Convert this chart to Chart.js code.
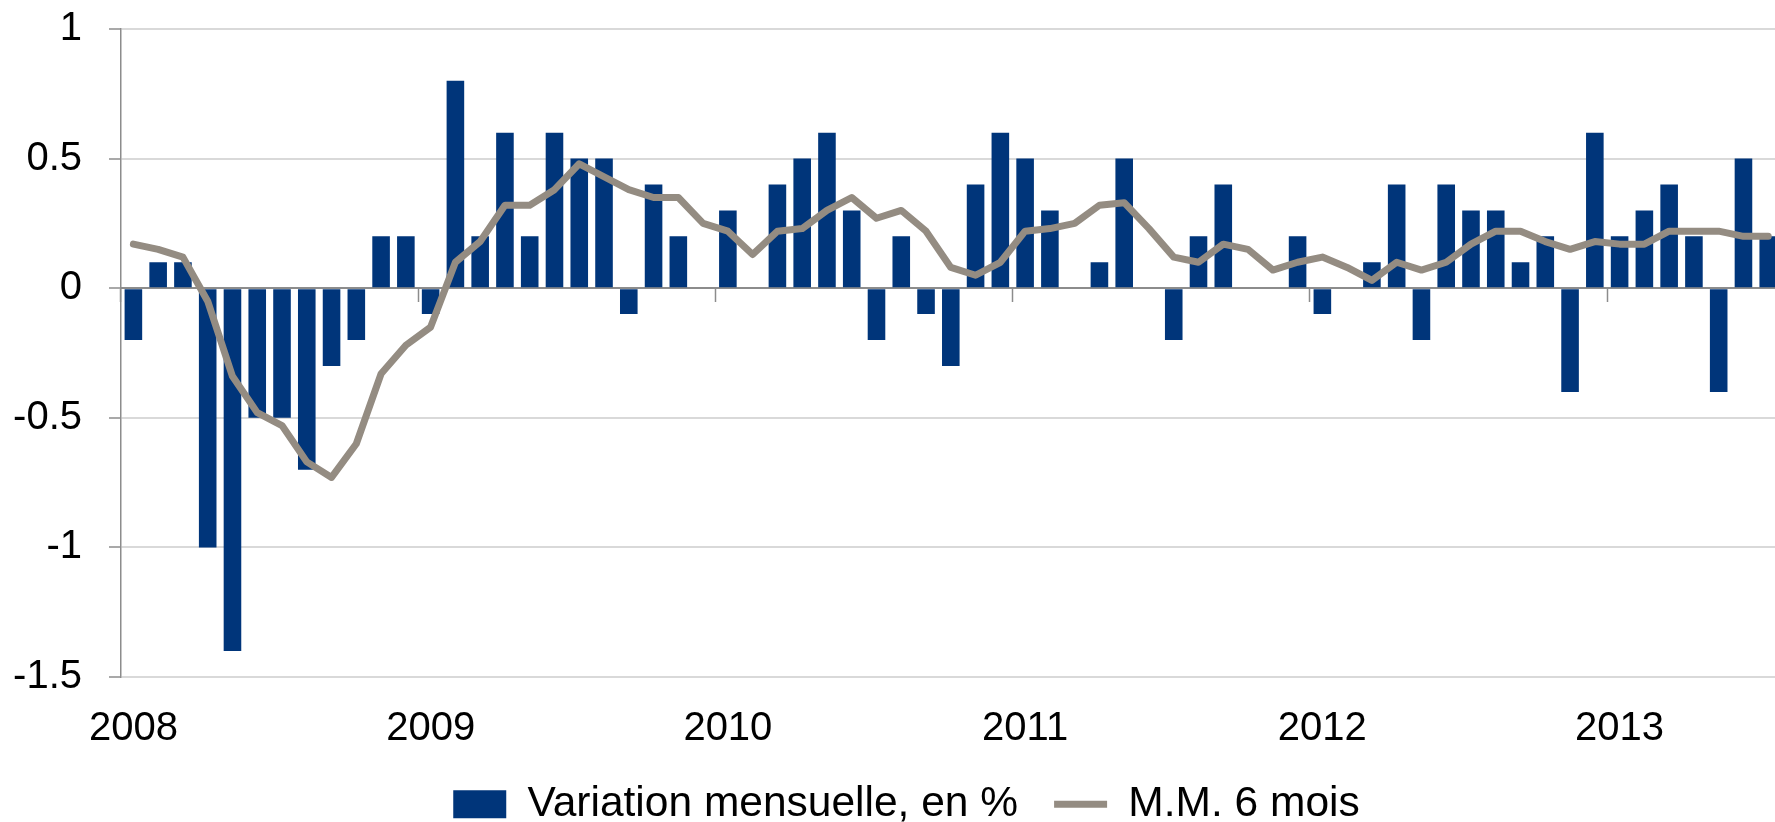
<!DOCTYPE html>
<html>
<head>
<meta charset="utf-8">
<script src="https://cdn.jsdelivr.net/npm/chart.js@4.4.1/dist/chart.umd.min.js"></script>
<style>
  html, body { margin: 0; padding: 0; background: #ffffff; overflow: hidden; width: 1775px; height: 822px; }
  canvas { display: block; }
</style>
</head>
<body>
<canvas id="c" width="1813" height="822" style="width:1813px;height:822px"></canvas>
<script>
// ---- Data ----
const yearLabels = ['2008', '2009', '2010', '2011', '2012', '2013'];
const monthCodes = ['01', '02', '03', '04', '05', '06', '07', '08', '09', '10', '11', '12'];
const lastCategory = '2013-08';
const seriesNames = ['Variation mensuelle, en %', 'M.M. 6 mois'];
const yTickLabels = ['-1.5', '-1', '-0.5', '0', '0.5', '1'];

// Variation mensuelle, en % (Jan 2008 -> Jul 2013)
const monthlyChange = [
  -0.2, 0.1, 0.1, -1.0, -1.4, -0.5, -0.5, -0.7, -0.3, -0.2, 0.2, 0.2,
  -0.1, 0.8, 0.2, 0.6, 0.2, 0.6, 0.5, 0.5, -0.1, 0.4, 0.2, 0,
  0.3, 0, 0.4, 0.5, 0.6, 0.3, -0.2, 0.2, -0.1, -0.3, 0.4, 0.6,
  0.5, 0.3, 0, 0.1, 0.5, 0, -0.2, 0.2, 0.4, 0, 0, 0.2,
  -0.1, 0, 0.1, 0.4, -0.2, 0.4, 0.3, 0.3, 0.1, 0.2, -0.4, 0.6,
  0.2, 0.3, 0.4, 0.2, -0.4, 0.5, 0.2
];

// M.M. 6 mois
const movingAvg6 = [
  0.17, 0.15, 0.12, -0.05, -0.34, -0.48, -0.53, -0.67, -0.73, -0.60, -0.33, -0.22,
  -0.15, 0.10, 0.18, 0.32, 0.32, 0.38, 0.48, 0.43, 0.38, 0.35, 0.35, 0.25,
  0.22, 0.13, 0.22, 0.23, 0.30, 0.35, 0.27, 0.30, 0.22, 0.08, 0.05, 0.10,
  0.22, 0.23, 0.25, 0.32, 0.33, 0.23, 0.12, 0.10, 0.17, 0.15, 0.07, 0.10,
  0.12, 0.08, 0.03, 0.10, 0.07, 0.10, 0.17, 0.22, 0.22, 0.18, 0.15, 0.18,
  0.17, 0.17, 0.22, 0.22, 0.22, 0.20, 0.20
];

// monthly categories built from the year / month lists
const categories = [];
for (const y of yearLabels) {
  for (const m of monthCodes) {
    if (categories.length && categories[categories.length - 1] === lastCategory) break;
    categories.push(y + '-' + m);
  }
}

// ---- Styles ----
const FONT = "'Liberation Sans', Arial, Helvetica, sans-serif";
const BAR = '#00357a';
const LINE = '#948c82';
const GRID = '#d9d9d9';
const AXIS = '#8c8c8c';

new Chart(document.getElementById('c'), {
  data: {
    labels: categories,
    datasets: [
      {
        type: 'bar',
        label: seriesNames[0],
        data: monthlyChange,
        backgroundColor: BAR,
        borderWidth: 0,
        pointStyle: 'rect',
        barPercentage: 0.71,
        categoryPercentage: 1,
        order: 2,
        xAxisID: 'x',
        yAxisID: 'y'
      },
      {
        type: 'line',
        label: seriesNames[1],
        data: movingAvg6,
        borderColor: LINE,
        backgroundColor: LINE,
        borderWidth: 7,
        borderCapStyle: 'round',
        borderJoinStyle: 'round',
        pointRadius: 0,
        pointHoverRadius: 0,
        pointStyle: 'line',
        tension: 0,
        fill: false,
        order: 1,
        xAxisID: 'x',
        yAxisID: 'y'
      }
    ]
  },
  options: {
    responsive: false,
    animation: false,
    devicePixelRatio: 1,
    layout: { padding: { top: 29, left: 0, right: 0, bottom: 0 } },
    plugins: {
      tooltip: { enabled: false },
      legend: {
        position: 'bottom',
        maxHeight: 75,
        labels: {
          usePointStyle: true,
          pointStyleWidth: 53,
          boxHeight: 28,
          padding: 36,
          color: '#000000',
          font: { family: FONT, size: 42.5 },
          sort: (a, b) => a.datasetIndex - b.datasetIndex
        }
      }
    },
    scales: {
      x: {
        type: 'category',
        position: 'bottom',
        offset: true,
        grid: { display: false },
        border: { display: false },
        ticks: {
          autoSkip: false,
          maxRotation: 0,
          minRotation: 0,
          padding: 20,
          color: '#000000',
          font: { family: FONT, size: 40 },
          callback: (v, i) => (i % 12 === 0 ? yearLabels[i / 12] : '')
        },
        afterFit: (s) => { s.height = 70; }
      },
      xZero: {
        type: 'category',
        position: { y: 0 },
        offset: true,
        grid: {
          offset: true,
          drawOnChartArea: false,
          drawTicks: true,
          tickLength: 13,
          tickWidth: 1.5,
          tickColor: (c) => (c.index % 12 === 0 ? AXIS : 'rgba(0,0,0,0)')
        },
        border: { display: true, color: AXIS, width: 2 },
        ticks: { display: false, autoSkip: false }
      },
      y: {
        type: 'linear',
        min: -1.5,
        max: 1,
        afterFit: (s) => { s.width = 121; s.paddingTop = 0; s.paddingBottom = 0; },
        ticks: {
          stepSize: 0.5,
          padding: 27,
          color: '#000000',
          font: { family: FONT, size: 40 },
          callback: (v, i) => yTickLabels[i]
        },
        grid: {
          color: (c) => (c.tick && c.tick.value === 0 ? 'rgba(0,0,0,0)' : GRID),
          lineWidth: 2,
          tickColor: AXIS,
          tickLength: 12,
          tickWidth: 1.5
        },
        border: { color: AXIS, width: 1.5 }
      }
    }
  }
});
</script>
</body>
</html>
